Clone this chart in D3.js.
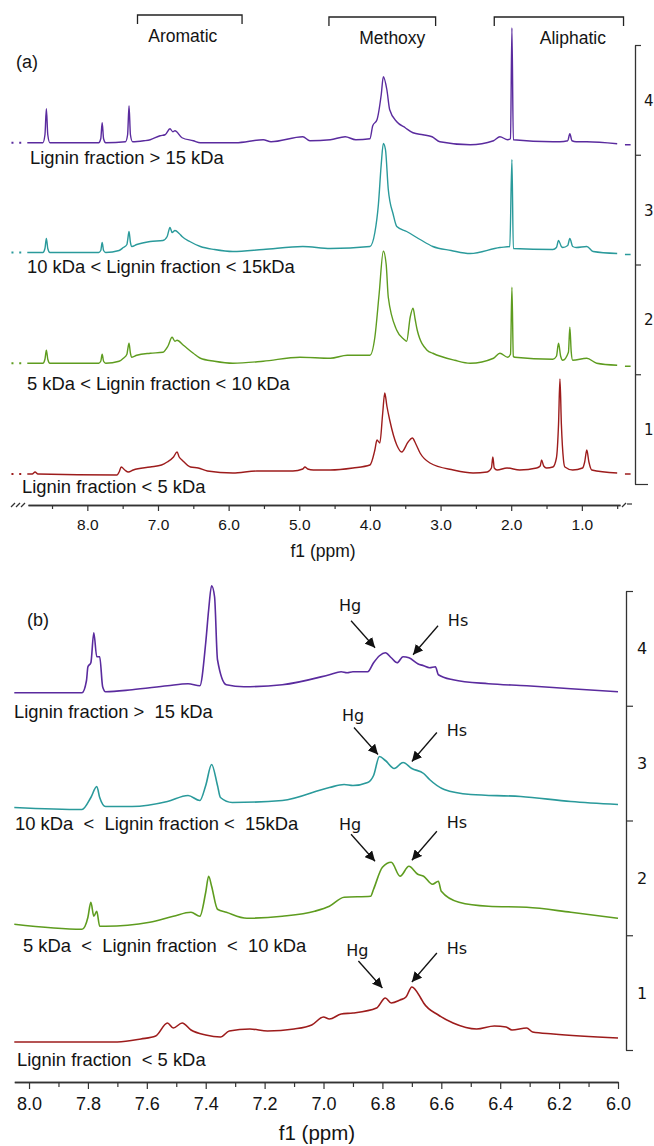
<!DOCTYPE html>
<html>
<head>
<meta charset="utf-8">
<script src="https://cdn.jsdelivr.net/npm/d3@7"></script>
<style>
body { margin: 0; background: #fff; }
svg { display: block; }
text { font-family: "Liberation Sans", Arial, sans-serif; fill: #141414; }
.verd { font-family: "DejaVu Sans", Verdana, sans-serif; }
</style>
</head>
<body>
<svg id="chart" width="654" height="1146"></svg>
<script>
// samples, top to bottom
var sampleIds = ["4", "3", "2", "1"];
var colors = ["#5a2b9e", "#2a9a9b", "#5e9c1f", "#9d1c1c"];

var labelsA = ["Lignin fraction > 15 kDa", "10 kDa < Lignin fraction < 15kDa",
               "5 kDa < Lignin fraction < 10 kDa", "Lignin fraction < 5 kDa"];
var labelsB = ["Lignin fraction >  15 kDa", "10 kDa  <  Lignin fraction <  15kDa",
               "5 kDa  <  Lignin fraction  <  10 kDa", "Lignin fraction  < 5 kDa"];

// bracketed regions over panel (a), ppm
var regionNames = ["Aromatic", "Methoxy", "Aliphatic"];
var regionFrom = [7.29, 4.58, 2.24];
var regionTo = [5.81, 3.07, 0.41];

var ticksMajorA = [8, 7, 6, 5, 4, 3, 2, 1];
var ticksMinorA = [8.5, 7.5, 6.5, 5.5, 4.5, 3.5, 2.5, 1.5, 0.5];
var ticksMajorB = [8.0, 7.8, 7.6, 7.4, 7.2, 7.0, 6.8, 6.6, 6.4, 6.2, 6.0];
var ticksMinorB = [7.9, 7.7, 7.5, 7.3, 7.1, 6.9, 6.7, 6.5, 6.3, 6.1];

// panel (a) spectra: [ppm, intensity above band floor]
var specA4 = [[8.85,12],[8.63,12],[8.60,20],[8.58,46],[8.56,20],[8.53,12],[7.84,12],[7.81,16],[7.79,32],[7.77,16],[7.74,12],
  [7.46,13],[7.43,20],[7.41,49],[7.39,20],[7.36,13],[7.20,14],[7.11,15],[6.97,19],[6.90,20],[6.83,26],[6.79,23],[6.76,24],
  [6.66,17],[6.50,14],[6.40,12],[5.90,12],[5.51,15],[5.40,13],[4.95,18],[4.85,14],[4.56,15],[4.35,18],[4.20,15],[4.00,16],
  [3.96,29],[3.90,35],[3.84,60],[3.81,78],[3.76,65],[3.72,45],[3.62,33],[3.50,27],[3.39,22],[3.25,20],[3.12,18],[3.01,13],
  [2.58,10],[2.25,14],[2.16,18],[2.05,15],[2.01,16],[1.99,127],[1.97,15],[1.41,13],[1.31,13],[1.20,14],[1.17,21],[1.14,14],
  [1.08,13],[0.93,13],[0.50,11]];
var specA3 = [[8.85,12],[8.63,12],[8.60,16],[8.58,26],[8.56,16],[8.53,12],[7.84,12],[7.81,14],[7.79,22],[7.77,14],[7.74,12],
  [7.55,14],[7.49,17],[7.44,20],[7.43,24],[7.41,33],[7.39,22],[7.37,18],[7.30,20],[7.11,23],[6.93,24],[6.87,28],[6.83,37],
  [6.80,32],[6.76,34],[6.70,31],[6.66,28],[6.55,23],[6.40,18],[6.20,15],[5.94,13],[5.51,15],[4.95,18],[4.56,16],[4.00,18],
  [3.93,32],[3.88,60],[3.84,100],[3.81,121],[3.78,115],[3.74,75],[3.67,50],[3.62,38],[3.48,33],[3.29,25],[3.11,18],[2.85,14],
  [2.58,11],[2.16,17],[2.02,18],[1.99,105],[1.97,16],[1.41,15],[1.36,17],[1.33,24],[1.29,18],[1.27,17],[1.20,19],[1.17,26],
  [1.13,18],[1.08,17],[0.93,18],[0.84,13],[0.50,11]];
var specA2 = [[8.85,11],[8.63,11],[8.60,15],[8.58,24],[8.56,15],[8.53,11],[7.84,11],[7.81,13],[7.79,20],[7.77,13],[7.74,11],
  [7.55,13],[7.49,16],[7.44,20],[7.43,24],[7.41,31],[7.39,21],[7.37,17],[7.30,19],[7.11,21],[6.93,22],[6.86,28],[6.80,37],
  [6.76,33],[6.73,34],[6.64,29],[6.50,21],[6.40,16],[6.20,13],[5.94,11],[5.51,13],[4.99,17],[4.56,16],[4.32,19],[4.00,19],
  [3.93,37],[3.87,80],[3.81,123],[3.77,110],[3.74,77],[3.62,44],[3.52,35],[3.48,33],[3.43,57],[3.39,66],[3.36,55],[3.33,44],
  [3.19,24],[3.11,21],[2.80,14],[2.58,11],[2.25,16],[2.16,21],[2.05,17],[2.01,20],[1.99,87],[1.97,18],[1.95,17],[1.41,15],
  [1.36,18],[1.33,31],[1.30,18],[1.27,14],[1.19,22],[1.17,47],[1.15,22],[1.13,14],[0.93,16],[0.79,11],[0.50,9]];
var specA1 = [[8.85,10],[8.78,10],[8.74,12],[8.70,10],[7.58,9],[7.55,12],[7.52,17],[7.47,14],[7.42,12],[7.35,14],[7.11,17],
  [6.95,19],[6.87,22],[6.78,27],[6.73,32],[6.70,27],[6.66,24],[6.54,17],[6.43,16],[6.30,13],[5.94,11],[5.60,13],[5.31,13],
  [5.09,13],[4.95,15],[4.92,17],[4.88,15],[4.80,14],[4.56,14],[4.24,16],[4.00,19],[3.93,34],[3.90,44],[3.86,41],[3.82,70],
  [3.79,91],[3.76,78],[3.72,64],[3.62,39],[3.55,32],[3.46,42],[3.40,46],[3.35,40],[3.29,31],[3.15,21],[2.82,14],[2.54,11],
  [2.34,12],[2.28,16],[2.26,27],[2.24,16],[2.20,14],[2.06,16],[1.88,14],[1.64,16],[1.59,18],[1.57,24],[1.54,18],[1.50,16],
  [1.41,17],[1.36,26],[1.33,60],[1.31,105],[1.29,60],[1.26,24],[1.24,17],[1.13,14],[0.99,16],[0.96,22],[0.93,34],[0.90,22],
  [0.86,14],[0.50,11]];

// panel (b) spectra, expanded aromatic region
var specB4 = [[8.05,13],[7.82,13],[7.805,25],[7.80,39],[7.79,43],[7.78,73],[7.77,49],[7.76,49],[7.75,19],[7.74,14],[7.65,16],
  [7.53,20],[7.46,22],[7.42,20],[7.40,63],[7.39,96],[7.38,120],[7.37,109],[7.36,46],[7.33,21],[7.27,19],[7.14,21],[6.98,31],
  [6.94,34],[6.92,33],[6.90,34],[6.85,34],[6.83,43],[6.81,50],[6.79,53],[6.77,48],[6.75,43],[6.73,49],[6.71,48],[6.68,42],
  [6.66,40],[6.64,38],[6.62,39],[6.61,31],[6.56,26],[6.44,22],[6.31,20],[6.16,17],[6.00,14]];
var specB3 = [[8.05,13],[7.82,11],[7.79,23],[7.77,34],[7.76,23],[7.74,14],[7.65,14],[7.53,19],[7.46,25],[7.42,20],[7.40,35],
  [7.38,56],[7.36,35],[7.35,23],[7.31,18],[7.14,20],[6.98,33],[6.93,36],[6.90,35],[6.85,38],[6.83,45],[6.81,64],[6.79,60],
  [6.76,52],[6.73,58],[6.70,52],[6.66,47],[6.64,41],[6.59,31],[6.50,26],[6.33,24],[6.16,19],[6.00,16]];
var specB2 = [[8.05,11],[7.82,6],[7.80,18],[7.79,33],[7.78,19],[7.77,24],[7.76,9],[7.74,9],[7.59,13],[7.51,19],[7.45,23],
  [7.42,19],[7.40,43],[7.39,59],[7.38,49],[7.36,26],[7.33,23],[7.26,17],[7.14,19],[7.03,24],[6.98,29],[6.93,38],[6.84,39],
  [6.83,46],[6.80,68],[6.77,73],[6.74,59],[6.71,69],[6.68,61],[6.66,59],[6.63,51],[6.61,54],[6.60,44],[6.54,33],[6.44,29],
  [6.31,28],[6.16,23],[6.00,17]];
var specB1 = [[8.05,8],[7.70,8],[7.62,11],[7.57,14],[7.53,27],[7.51,22],[7.48,27],[7.45,20],[7.40,15],[7.35,13],[7.32,19],
  [7.25,21],[7.19,19],[7.10,21],[7.04,25],[7.00,33],[6.98,31],[6.94,36],[6.90,37],[6.82,42],[6.79,52],[6.77,47],[6.74,50],
  [6.72,53],[6.70,63],[6.67,52],[6.66,47],[6.61,35],[6.56,27],[6.48,21],[6.42,24],[6.38,23],[6.36,20],[6.31,22],[6.29,18],
  [6.22,16],[6.00,12]];

var spectraA = [specA4, specA3, specA2, specA1];
var spectraB = [specB4, specB3, specB2, specB1];

// Hg / Hs arrow tips in panel (b): [ppm, intensity]
var hgTips = [[6.825,58],[6.815,66],[6.825,74],[6.80,62]];
var hsTips = [[6.696,51],[6.70,59],[6.70,75],[6.70,68]];

var svg = d3.select("#chart");

svg.append("defs").append("marker")
  .attr("id", "head").attr("viewBox", "0 0 10 10")
  .attr("refX", 10).attr("refY", 5)
  .attr("markerWidth", 10).attr("markerHeight", 10)
  .attr("markerUnits", "userSpaceOnUse")
  .attr("orient", "auto")
  .append("path").attr("d", "M0,0L10,5L0,10z").attr("fill", "#111");

// ---------- panel (a) ----------
var xA = d3.scaleLinear().domain([8.84, 0.46]).range([28, 620]);
var bandA = d3.scaleLinear().domain([0, 4]).range([484, 45]);
var yInt = d3.scaleLinear().domain([0, 100]).range([0, 100]);

function drawTraces(g, spectra, x, band, sw) {
  spectra.forEach(function(spec, i) {
    var floor = band(3 - i);
    var line = d3.line()
      .x(function(d) { return x(d[0]); })
      .y(function(d) { return floor - yInt(d[1]); })
      .curve(d3.curveMonotoneX);
    g.append("path").datum(spec)
      .attr("d", line)
      .attr("fill", "none")
      .attr("stroke", colors[i])
      .attr("stroke-width", sw)
      .attr("stroke-linejoin", "round");
  });
}

var gA = svg.append("g");
drawTraces(gA, spectraA, xA, bandA, 1.4);

// little dotted lead-ins and trailing dashes of each trace
spectraA.forEach(function(spec, i) {
  var y0 = bandA(3 - i) - yInt(spec[0][1]);
  var y1 = bandA(3 - i) - yInt(spec[spec.length - 1][1]) + 1;
  [9.06, 8.95].forEach(function(p) {
    gA.append("rect").attr("x", xA(p) - 1).attr("y", y0 - 1)
      .attr("width", 2).attr("height", 2).attr("fill", colors[i]);
  });
  gA.append("line").attr("x1", xA(0.39)).attr("x2", xA(0.31))
    .attr("y1", y1).attr("y2", y1)
    .attr("stroke", colors[i]).attr("stroke-width", 1.5);
});

// bottom axis (a)
var axA = gA.append("g").attr("transform", "translate(0,505)");
axA.call(d3.axisBottom(xA).tickValues(ticksMinorA).tickSize(4).tickSizeOuter(0).tickFormat(""));
axA.append("g").call(d3.axisBottom(xA).tickValues(ticksMajorA).tickSize(6).tickSizeOuter(0)
  .tickFormat(d3.format(".1f")));
axA.selectAll("path.domain").attr("stroke", "#333").attr("stroke-width", 1.3);
axA.selectAll(".tick line").attr("stroke", "#333").attr("stroke-width", 1.2);
axA.selectAll(".tick text").attr("font-size", 15.5).attr("dy", "1.05em")
  .style("font-family", "'Liberation Sans', Arial, sans-serif").attr("fill", "#141414");

// axis break marks
[13, 18, 23].forEach(function(bx) {
  axA.append("line").attr("x1", bx - 2).attr("y1", 2).attr("x2", bx + 2).attr("y2", -2)
    .attr("stroke", "#333").attr("stroke-width", 1.2);
});
axA.append("line").attr("x1", 622).attr("y1", 2).attr("x2", 626).attr("y2", -2)
  .attr("stroke", "#333").attr("stroke-width", 1.2);
axA.append("line").attr("x1", 627).attr("y1", -1).attr("x2", 632).attr("y2", -1)
  .attr("stroke", "#333").attr("stroke-width", 1.2);

gA.append("text").attr("x", 323).attr("y", 557).attr("text-anchor", "middle")
  .attr("font-size", 17.5).text("f1 (ppm)");

// right sample axis (a)
var rA = gA.append("g").attr("transform", "translate(635,0)");
rA.call(d3.axisRight(bandA).tickValues([0, 1, 2, 3, 4]).tickSize(6).tickSizeOuter(0).tickFormat(""));
rA.select("path.domain").attr("stroke", "#333").attr("stroke-width", 1.3);
rA.selectAll(".tick line").attr("stroke", "#333").attr("stroke-width", 1.2);
rA.selectAll(".tick").filter(function(d) { return d === 0; }).select("line").attr("x2", 13);
sampleIds.forEach(function(s, i) {
  rA.append("text").attr("class", "verd").attr("x", 9).attr("y", bandA(3 - i + 0.5) + 6)
    .attr("font-size", 15).text(s);
});

// region brackets (labels sit a little off centre, as in the original)
var regionShift = [-7, 10, 14];
regionNames.forEach(function(n, i) {
  var x0 = xA(regionFrom[i]), x1 = xA(regionTo[i]);
  var top = i === 0 ? 15 : 17;
  gA.append("path")
    .attr("d", "M" + x0 + "," + (top + 9) + "V" + top + "H" + x1 + "V" + (top + 9))
    .attr("fill", "none").attr("stroke", "#222").attr("stroke-width", 1.3);
  gA.append("text").attr("x", (x0 + x1) / 2 + regionShift[i]).attr("y", top + 27)
    .attr("text-anchor", "middle").attr("font-size", 17.5).text(n);
});

gA.append("text").attr("x", 16).attr("y", 68).attr("font-size", 18).text("(a)");

var labAx = [30, 27, 27, 22];
var labAy = [164, 273, 390, 493];
labelsA.forEach(function(t, i) {
  gA.append("text").attr("x", labAx[i]).attr("y", labAy[i])
    .attr("font-size", 18.4).attr("xml:space", "preserve").style("white-space", "pre").text(t);
});

// ---------- panel (b) ----------
var xB = d3.scaleLinear().domain([8.05, 6.0]).range([14.3, 618]);
var bandB = d3.scaleLinear().domain([0, 4]).range([1050, 591]);

var gB = svg.append("g");
drawTraces(gB, spectraB, xB, bandB, 1.6);

var axB = gB.append("g").attr("transform", "translate(0,1082)");
axB.call(d3.axisBottom(xB).tickValues(ticksMinorB).tickSize(5).tickSizeOuter(0).tickFormat(""));
axB.append("g").call(d3.axisBottom(xB).tickValues(ticksMajorB).tickSize(7).tickSizeOuter(0)
  .tickFormat(d3.format(".1f")));
axB.selectAll("path.domain").attr("stroke", "#333").attr("stroke-width", 1.3);
axB.selectAll(".tick line").attr("stroke", "#333").attr("stroke-width", 1.2);
axB.selectAll(".tick text").attr("font-size", 18).attr("dy", "1.0em")
  .style("font-family", "'Liberation Sans', Arial, sans-serif").attr("fill", "#141414");

gB.append("text").attr("x", 317).attr("y", 1140).attr("text-anchor", "middle")
  .attr("font-size", 20.5).text("f1 (ppm)");

var rB = gB.append("g").attr("transform", "translate(626,0)");
rB.call(d3.axisRight(bandB).tickValues([0, 1, 2, 3, 4]).tickSize(7).tickSizeOuter(0).tickFormat(""));
rB.select("path.domain").attr("stroke", "#333").attr("stroke-width", 1.3);
rB.selectAll(".tick line").attr("stroke", "#333").attr("stroke-width", 1.2);
sampleIds.forEach(function(s, i) {
  rB.append("text").attr("class", "verd").attr("x", 11).attr("y", bandB(3 - i + 0.5) + 6)
    .attr("font-size", 16).text(s);
});

gB.append("text").attr("x", 27).attr("y", 626).attr("font-size", 18).text("(b)");

var labBx = [14, 15, 23, 17];
var labBy = [718, 830, 952, 1066];
labelsB.forEach(function(t, i) {
  gB.append("text").attr("x", labBx[i]).attr("y", labBy[i])
    .attr("font-size", 18.4).attr("xml:space", "preserve").style("white-space", "pre").text(t);
});

// Hg / Hs annotations
var hgTextDy = [-37, -34, -31, -32];
var hsTextDy = [-29, -26, -32, -28];
function annotate(tip, i, name, dx, dy, tx, ty) {
  var px = xB(tip[0]), py = bandB(3 - i) - yInt(tip[1]);
  gB.append("line").attr("x1", px + dx).attr("y1", py + dy).attr("x2", px).attr("y2", py)
    .attr("stroke", "#111").attr("stroke-width", 1.3).attr("marker-end", "url(#head)");
  gB.append("text").attr("class", "verd").attr("x", px + tx).attr("y", py + ty)
    .attr("text-anchor", "middle").attr("font-size", 16).text(name);
}
hgTips.forEach(function(t, i) { annotate(t, i, "Hg", -24, -27, -25, hgTextDy[i]); });
hsTips.forEach(function(t, i) { annotate(t, i, "Hs", 25, -29, 45, hsTextDy[i]); });
</script>
</body>
</html>
